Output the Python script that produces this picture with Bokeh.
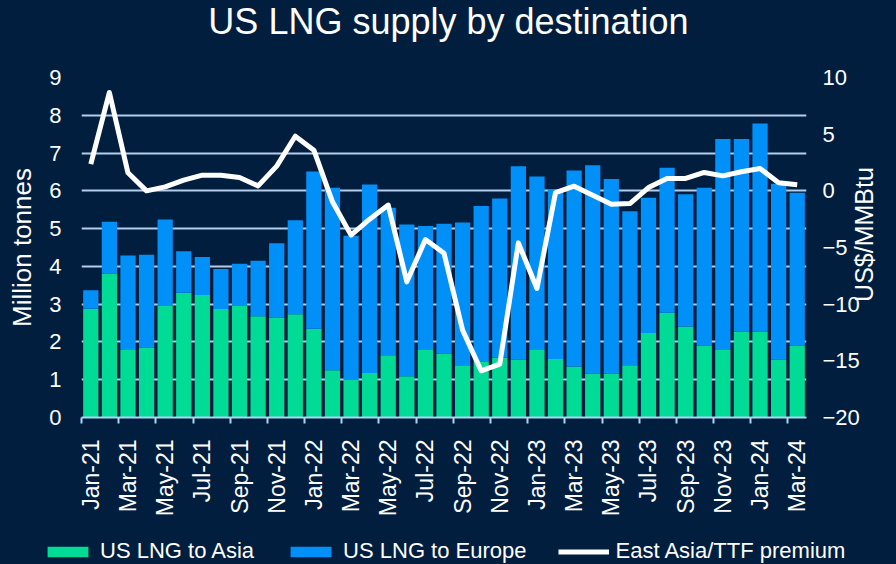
import math
from bokeh.plotting import figure
from bokeh.layouts import column
from bokeh.models import (ColumnDataSource, Range1d, LinearAxis, FixedTicker,
                          Legend, LegendItem)
from bokeh.embed import file_html
from bokeh.resources import INLINE

months = ["Jan-21", "Feb-21", "Mar-21", "Apr-21", "May-21", "Jun-21", "Jul-21", "Aug-21",
          "Sep-21", "Oct-21", "Nov-21", "Dec-21", "Jan-22", "Feb-22", "Mar-22", "Apr-22",
          "May-22", "Jun-22", "Jul-22", "Aug-22", "Sep-22", "Oct-22", "Nov-22", "Dec-22",
          "Jan-23", "Feb-23", "Mar-23", "Apr-23", "May-23", "Jun-23", "Jul-23", "Aug-23",
          "Sep-23", "Oct-23", "Nov-23", "Dec-23", "Jan-24", "Feb-24", "Mar-24"]
asia = [2.88, 3.81, 1.79, 1.85, 2.95, 3.30, 3.24, 2.87, 2.95, 2.68, 2.64, 2.73, 2.35,
        1.25, 0.99, 1.18, 1.65, 1.09, 1.79, 1.69, 1.38, 1.47, 1.58, 1.53, 1.79, 1.55,
        1.35, 1.16, 1.16, 1.38, 2.24, 2.77, 2.41, 1.90, 1.79, 2.27, 2.27, 1.53, 1.90]
europe = [0.49, 1.37, 2.50, 2.46, 2.29, 1.10, 1.01, 1.06, 1.12, 1.47, 1.97, 2.49, 4.16,
          4.83, 3.82, 4.99, 3.90, 4.02, 3.28, 3.44, 3.78, 4.13, 4.22, 5.12, 4.59, 4.49,
          5.19, 5.52, 5.15, 4.08, 3.58, 3.84, 3.50, 4.18, 5.58, 5.10, 5.51, 4.66, 4.05]
premium = [2.35, 8.68, 1.59, 0.0, 0.35, 0.94, 1.38, 1.38, 1.18, 0.44, 2.18, 4.82, 3.59,
           -0.97, -3.91, -2.5, -1.26, -8.03, -4.3, -5.5, -12.29, -15.88, -15.29, -4.59,
           -8.62, -0.15, 0.41, -0.38, -1.18, -1.12, 0.29, 1.09, 1.09, 1.62, 1.32, 1.68,
           1.97, 0.71, 0.53]
left_ticks = [0, 1, 2, 3, 4, 5, 6, 7, 8, 9]
right_ticks = [-20, -15, -10, -5, 0, 5, 10]
right_label_at = -9.8

BG = "#011E3E"
GREEN = "#00DC96"
BLUE = "#0090F8"
GRID = "#B4CDEA"
AXIS = "#B0D4F0"
FONT = "Liberation Sans"

x = list(range(len(months)))
src = ColumnDataSource(dict(x=x, asia=asia, europe=europe, premium=premium))


def no_frame_align(fig):
    if "frame_align" in fig.properties():
        fig.frame_align = False


# ---- title strip
tf = figure(width=896, height=56, output_backend="svg", toolbar_location=None,
            x_axis_type=None, y_axis_type=None, min_border=0,
            title="US LNG supply by destination")
no_frame_align(tf)
tf.background_fill_color = BG
tf.border_fill_color = BG
tf.outline_line_color = None
tf.title.text_color = "white"
tf.title.text_font = FONT
tf.title.text_font_style = "normal"
tf.title.text_font_size = "36px"
tf.title.align = "center"
tf.title.vertical_align = "top"
tf.title.standoff = 0

# ---- main chart
p = figure(width=896, height=476, output_backend="svg", toolbar_location=None,
           title=None,
           x_range=Range1d(-0.5, len(months) - 0.5), y_range=Range1d(0, 9),
           min_border_left=81, min_border_right=90, min_border_top=21,
           min_border_bottom=115)
p.extra_y_ranges = {"prem": Range1d(-20, 10)}
p.background_fill_color = BG
p.border_fill_color = BG
p.outline_line_color = None

bars = p.vbar_stack(["asia", "europe"], x="x", width=0.82, source=src,
                    color=[GREEN, BLUE], line_width=0)
ln = p.line("x", "premium", source=src, y_range_name="prem", line_color="white",
            line_width=5, line_join="round")
ln.level = "annotation"

xa = p.xaxis[0]
xa.ticker = FixedTicker(ticks=x[::2], minor_ticks=[i - 0.5 for i in x[::2]])
xa.major_label_overrides = {i: months[i] for i in x[::2]}
xa.major_label_orientation = math.pi / 2
xa.major_tick_out = 0
xa.major_tick_in = 0
xa.minor_tick_out = 6
xa.minor_tick_in = 0
xa.minor_tick_line_color = AXIS
xa.minor_tick_line_width = 2
xa.axis_line_color = AXIS
xa.axis_line_width = 2
xa.major_label_standoff = 16
xa.major_label_text_color = "white"
xa.major_label_text_font = FONT
xa.major_label_text_font_size = "23px"

ya = p.yaxis[0]
ya.ticker = FixedTicker(ticks=left_ticks)
ya.axis_line_color = None
ya.major_tick_line_color = None
ya.minor_tick_line_color = None
ya.major_tick_out = 0
ya.major_tick_in = 0
ya.major_label_standoff = 20
ya.major_label_text_color = "white"
ya.major_label_text_font = FONT
ya.major_label_text_font_size = "22px"
ya.axis_label = "Million tonnes"
ya.axis_label_text_color = "white"
ya.axis_label_text_font = FONT
ya.axis_label_text_font_style = "normal"
ya.axis_label_text_font_size = "26px"
ya.axis_label_standoff = 9

ra = LinearAxis(y_range_name="prem", ticker=FixedTicker(ticks=right_ticks))
ra.axis_line_color = None
ra.major_tick_line_color = None
ra.minor_tick_line_color = None
ra.major_tick_out = 0
ra.major_tick_in = 0
ra.major_label_standoff = 16
ra.major_label_text_color = "white"
ra.major_label_text_font = FONT
ra.major_label_text_font_size = "22px"
p.add_layout(ra, "right")

rt = LinearAxis(y_range_name="prem", ticker=FixedTicker(ticks=[right_label_at]))
rt.major_label_overrides = {right_label_at: "US$/MMBtu"}
rt.major_label_orientation = math.pi / 2
rt.axis_line_color = None
rt.major_tick_line_color = None
rt.minor_tick_line_color = None
rt.major_tick_out = 0
rt.major_tick_in = 0
rt.major_label_standoff = 2
rt.major_label_text_color = "white"
rt.major_label_text_font = FONT
rt.major_label_text_font_size = "25px"
p.add_layout(rt, "right")

p.xgrid.grid_line_color = None
p.ygrid.ticker = FixedTicker(ticks=left_ticks)
p.ygrid.grid_line_color = GRID
p.ygrid.grid_line_width = 2

# ---- legend strip (same series, drawn out of view; only the legend shows)
lg = figure(width=896, height=32, output_backend="svg", toolbar_location=None,
            title=None, x_axis_type=None, y_axis_type=None, min_border=0,
            x_range=Range1d(-0.5, len(months) - 0.5), y_range=Range1d(100, 101))
no_frame_align(lg)
lg.background_fill_color = BG
lg.border_fill_color = BG
lg.outline_line_color = None
gb = lg.vbar_stack(["asia", "europe"], x="x", width=0.82, source=src,
                   color=[GREEN, BLUE], line_width=0)
gl = lg.line("x", "premium", source=src, line_color="white", line_width=5,
             line_join="round")
legend = Legend(items=[LegendItem(label="US LNG to Asia", renderers=[gb[0]]),
                       LegendItem(label="US LNG to Europe", renderers=[gb[1]]),
                       LegendItem(label="East Asia/TTF premium", renderers=[gl])],
                orientation="horizontal", location=(42, 0),
                glyph_width=51, glyph_height=13, label_standoff=7, spacing=31,
                padding=0, margin=0, background_fill_alpha=0,
                border_line_color=None, label_text_color="white",
                label_text_font=FONT, label_text_font_size="22px")
lg.add_layout(legend)

layout = column(tf, p, lg, spacing=0, styles={"background-color": BG})
open("out.html", "w").write(file_html(layout, INLINE))
